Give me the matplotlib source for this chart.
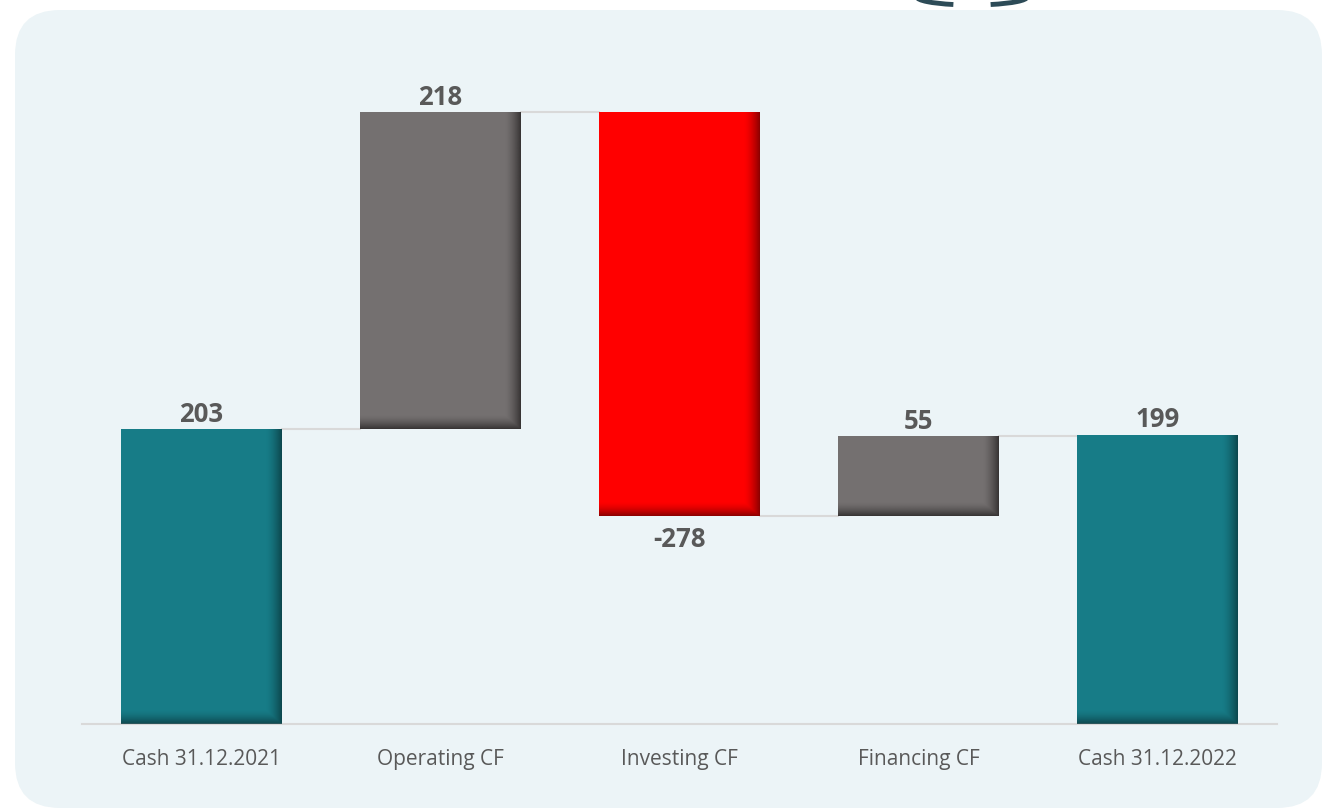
import numpy as np
import matplotlib
matplotlib.use("Agg")
import matplotlib.pyplot as plt
from matplotlib.patches import FancyBboxPatch, Arc
from matplotlib.colors import to_rgb

plt.rcParams['font.family'] = ['Open Sans', 'DejaVu Sans']

# data
categories = ["Cash 31.12.2021", "Operating CF", "Investing CF", "Financing CF", "Cash 31.12.2022"]
values = [203, 218, -278, 55, 199]
is_total = [True, False, False, False, True]
labels = ["203", "218", "-278", "55", "199"]

teal = "#177c87"
grey = "#747070"
red = "#ff0000"
dark = {teal: "#0b3f45", grey: "#2e2b2b", red: "#7a0000"}
txt = "#595959"

W, H = 1324, 811
fig = plt.figure(figsize=(W / 100, H / 100), dpi=100)
fig.patch.set_facecolor("white")

# background panel (pixel coords, y down)
bg = fig.add_axes([0, 0, 1, 1], zorder=-1)
bg.set_xlim(0, W)
bg.set_ylim(H, 0)
bg.axis("off")
bg.add_patch(FancyBboxPatch((15, 10), 1307, 798, boxstyle="round,pad=0,rounding_size=45",
                            fc="#ecf4f7", ec="none"))
bg.add_patch(Arc((972, -3), 110, 16, theta1=158, theta2=180, color="#2d4b57", lw=3.5))
bg.add_patch(Arc((972, -3), 110, 16, theta1=0, theta2=22, color="#2d4b57", lw=3.5))

ax = fig.add_axes([82 / W, (H - 724) / H, (1277 - 82) / W, 654 / H])
ax.set_facecolor("none")

x = np.arange(len(categories))
bw = 0.67

bottoms, heights, colors = [], [], []
run = 0
for v, tot in zip(values, is_total):
    if tot:
        bottoms.append(0)
        heights.append(v)
        colors.append(teal)
        run = v
    else:
        if v >= 0:
            bottoms.append(run)
            heights.append(v)
            colors.append(grey)
        else:
            bottoms.append(run + v)
            heights.append(-v)
            colors.append(red)
        run += v

bars = ax.bar(x, heights, bw, bottom=bottoms, color=colors, zorder=2)

# inner shading at right and bottom edges
px_y = 654 / 450.0                # pixels per y unit
for rect, xi, b, h, c in zip(bars, x, bottoms, heights, colors):
    x0, x1 = xi - bw / 2, xi + bw / 2
    nx, ny = 160, max(int(h * px_y), 2)
    gx = np.linspace(0, 160, nx)
    gy = np.linspace(0, ny, ny)
    a_r = np.clip(1 - (160 - gx) / 16.0, 0, 1) ** 1.6
    a_b = np.clip(1 - gy / 14.0, 0, 1) ** 1.6
    alpha = np.maximum(a_r[None, :], a_b[:, None]) * 0.85
    img = np.zeros((ny, nx, 4))
    img[..., :3] = to_rgb(dark[c])
    img[..., 3] = alpha
    im = ax.imshow(img, extent=(x0, x1, b, b + h), origin="lower", aspect="auto",
                   interpolation="bilinear", zorder=3)
    im.set_clip_path(rect)
ax.set_xlim(-0.5, 4.5)
ax.set_ylim(0, 450)

# connectors
run = 0
levels = []
for v, tot in zip(values, is_total):
    run = v if tot else run + v
    levels.append(run)
for i in range(len(x) - 1):
    ax.plot([x[i] + bw / 2, x[i + 1] - bw / 2], [levels[i], levels[i]],
            color="#d9d9d9", lw=1.5, zorder=1)

# value labels
for xi, b, h, v, lab in zip(x, bottoms, heights, values, labels):
    if v >= 0:
        ax.annotate(lab, (xi, b + h), xytext=(0, 1), textcoords="offset points",
                    ha="center", va="bottom", fontsize=18.5, fontweight="bold", color=txt)
    else:
        ax.annotate(lab, (xi, b), xytext=(0, -7), textcoords="offset points",
                    ha="center", va="top", fontsize=18.5, fontweight="bold", color=txt)

ax.set_xticks(x)
ax.set_xticklabels(categories, fontsize=15, color=txt)
ax.tick_params(axis="x", length=0, pad=18)
ax.set_yticks([])
for s in ["top", "right", "left"]:
    ax.spines[s].set_visible(False)
ax.spines["bottom"].set_color("#d9d9d9")
ax.spines["bottom"].set_linewidth(1.5)

fig.savefig("out.png", dpi=100)
